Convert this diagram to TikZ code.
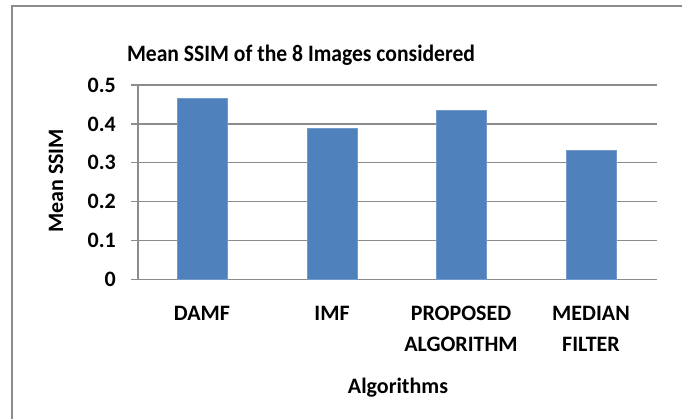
\documentclass[tikz,border=0pt]{standalone}
\usepackage{fontspec}
\setmainfont{Carlito}

\definecolor{barblue}{HTML}{4F81BD}
\definecolor{gridgray}{HTML}{8C8C8C}

\tikzset{
	rotulo/.style={font=\bfseries\fontsize{22}{31}\selectfont, inner sep=0pt},
	titulo/.style={font=\bfseries\fontsize{23.5}{28}\selectfont, inner sep=0pt, xscale=0.92},
	rejilla/.style={gridgray, line width=1.5pt},
	barra/.style={fill=barblue, draw=barblue!80!white, line width=0.6pt}
}

\begin{document}
\begin{tikzpicture}[x=1pt, y=-1pt]
	\useasboundingbox (0,0) rectangle (688,419);
	% Marco del grafico
		\draw[gridgray, line width=1.5pt] (12,419) -- (12,6) -- (682,6);

	% Titulo
		\node[titulo] (titulo) at (301,55) {Mean SSIM of the 8 Images considered};

	% Lineas de la rejilla y marcas
		\draw[rejilla] (131,279.3) -- (657,279.3);
		\draw[rejilla] (131,240.4) -- (657,240.4);
		\draw[rejilla] (131,201.6) -- (657,201.6);
		\draw[rejilla] (131,162.7) -- (657,162.7);
		\draw[rejilla] (131,123.9) -- (657,123.9);
		\draw[rejilla] (131,85) -- (657,85);
		\draw[rejilla] (138,85) -- (138,279.3);

	% Valores del eje
		\node[rotulo, anchor=east] (v0) at (116,279.3) {0};
		\node[rotulo, anchor=east] (v1) at (116,240.4) {0.1};
		\node[rotulo, anchor=east] (v2) at (116,201.6) {0.2};
		\node[rotulo, anchor=east] (v3) at (116,162.7) {0.3};
		\node[rotulo, anchor=east] (v4) at (116,123.9) {0.4};
		\node[rotulo, anchor=east] (v5) at (116,85) {0.5};

	% Barras
		\draw[barra] (177,279.3) rectangle (227.5,98.7);
		\draw[barra] (307,279.3) rectangle (357.5,128);
		\draw[barra] (436,279.3) rectangle (486.5,110.7);
		\draw[barra] (566,279.3) rectangle (616.5,150.3);

	% Categorias
		\node[rotulo, anchor=north, align=center] (damf) at (202,306) {DAMF};
		\node[rotulo, anchor=north, align=center] (imf) at (332,306) {IMF};
		\node[rotulo, anchor=north, align=center] (propuesto) at (461,306) {PROPOSED\\ALGORITHM};
		\node[rotulo, anchor=north, align=center] (mediana) at (591,306) {MEDIAN\\FILTER};

	% Titulos de los ejes
		\node[rotulo] (ejex) at (398,388) {Algorithms};
		\node[rotulo, rotate=90] (ejey) at (56,181) {Mean SSIM};
\end{tikzpicture}
\end{document}
